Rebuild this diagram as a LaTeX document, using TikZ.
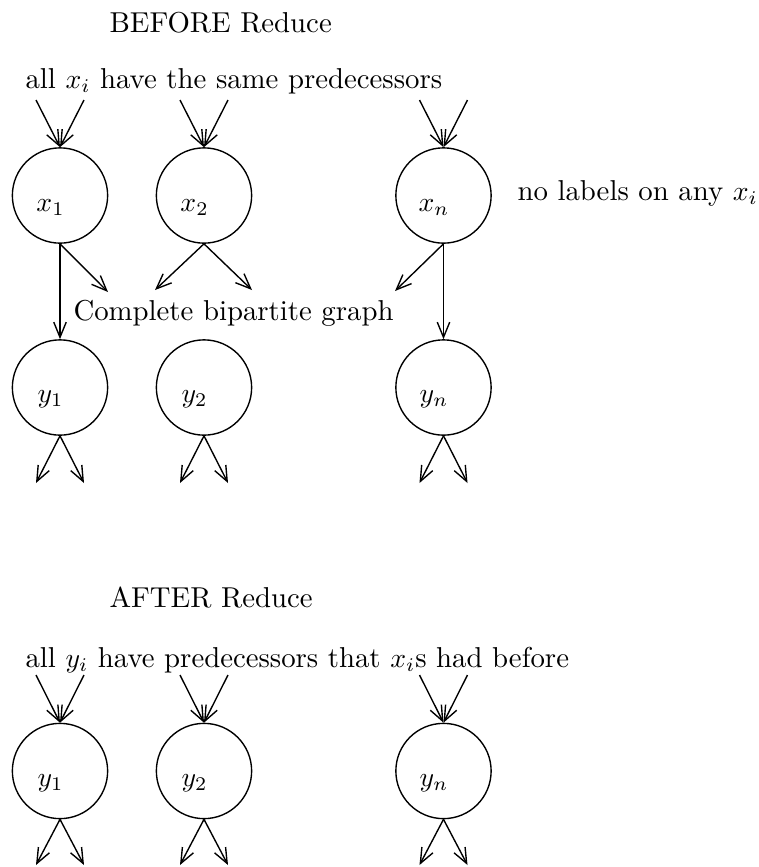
\documentclass[tikz,border=0pt]{standalone}
\usepackage{amsmath, amssymb}
\usepackage{tikz}
\usetikzlibrary{arrows.meta}
\tikzset{
  vtx/.style={circle, draw, line width=0.5pt, minimum size=1.21cm, inner sep=0pt},
  vlab/.style={label={[xshift=-1.2mm, yshift=-1.5mm]center:#1}},
  link/.style={line width=0.5pt, -{Straight Barb[length=5.5pt, width=4.5pt]}},
  txt/.style={inner sep=0pt, anchor=base west},
}

\begin{document}
\begin{tikzpicture}[x=0.127cm, y=-0.127cm, font=\fontsize{10.4pt}{12.5pt}\selectfont]
            \useasboundingbox (0,0) rectangle (75.9,86.7);

            % Prima della riduzione
            \node[txt] (before) at (10.9,3.2) {BEFORE Reduce};
            \node[txt] (same) at (2.5,8.8) {all $x_i$ have the same predecessors};
            \node[vtx, vlab=$x_1$] (x1) at (6,19.55) {};
            \node[vtx, vlab=$x_2$] (x2) at (20.4,19.55) {};
            \node[vtx, vlab=$x_n$] (xn) at (44.35,19.55) {};
            \node[txt] (nolab) at (51.7,20) {no labels on any $x_i$};
            \node[txt] (bip) at (7.3,32) {Complete bipartite graph};
            \node[vtx, vlab=$y_1$] (y1) at (6,38.75) {};
            \node[vtx, vlab=$y_2$] (y2) at (20.4,38.75) {};
            \node[vtx, vlab=$y_n$] (yn) at (44.35,38.75) {};

            \coordinate (p1a) at (3.6,10);   \coordinate (p1b) at (8.4,10);
            \coordinate (p2a) at (18,10);    \coordinate (p2b) at (22.8,10);
            \coordinate (pna) at (41.95,10); \coordinate (pnb) at (46.75,10);
            \draw[link] (p1a) -- (x1.north);
            \draw[link] (p1b) -- (x1.north);
            \draw[link] (p2a) -- (x2.north);
            \draw[link] (p2b) -- (x2.north);
            \draw[link] (pna) -- (xn.north);
            \draw[link] (pnb) -- (xn.north);

            % Grafo bipartito completo
            \coordinate (q1) at (10.8,29.2);
            \coordinate (q2a) at (15.5,29);  \coordinate (q2b) at (25.2,29);
            \coordinate (qn) at (39.5,29.1);
            \draw[link] (x1.south) -- (y1.north);
            \draw[link] (x1.south) -- (q1);
            \draw[link] (x2.south) -- (q2a);
            \draw[link] (x2.south) -- (q2b);
            \draw[link] (xn.south) -- (qn);
            \draw[link] (xn.south) -- (yn.north);

            \coordinate (r1a) at (3.6,48.3);   \coordinate (r1b) at (8.4,48.3);
            \coordinate (r2a) at (18,48.3);    \coordinate (r2b) at (22.8,48.3);
            \coordinate (rna) at (41.95,48.3); \coordinate (rnb) at (46.75,48.3);
            \draw[link] (y1.south) -- (r1a);
            \draw[link] (y1.south) -- (r1b);
            \draw[link] (y2.south) -- (r2a);
            \draw[link] (y2.south) -- (r2b);
            \draw[link] (yn.south) -- (rna);
            \draw[link] (yn.south) -- (rnb);

            % Dopo la riduzione
            \node[txt] (after) at (10.9,60.7) {AFTER Reduce};
            \node[txt] (had) at (2.5,66.7) {all $y_i$ have predecessors that $x_i$s had before};
            \node[vtx, vlab=$y_1$] (ny1) at (6,77.1) {};
            \node[vtx, vlab=$y_2$] (ny2) at (20.4,77.1) {};
            \node[vtx, vlab=$y_n$] (nyn) at (44.35,77.1) {};

            \coordinate (s1a) at (3.6,67.5);   \coordinate (s1b) at (8.4,67.5);
            \coordinate (s2a) at (18,67.5);    \coordinate (s2b) at (22.8,67.5);
            \coordinate (sna) at (41.95,67.5); \coordinate (snb) at (46.75,67.5);
            \draw[link] (s1a) -- (ny1.north);
            \draw[link] (s1b) -- (ny1.north);
            \draw[link] (s2a) -- (ny2.north);
            \draw[link] (s2b) -- (ny2.north);
            \draw[link] (sna) -- (nyn.north);
            \draw[link] (snb) -- (nyn.north);

            \coordinate (t1a) at (3.6,86.5);   \coordinate (t1b) at (8.4,86.5);
            \coordinate (t2a) at (18,86.5);    \coordinate (t2b) at (22.8,86.5);
            \coordinate (tna) at (41.95,86.5); \coordinate (tnb) at (46.75,86.5);
            \draw[link] (ny1.south) -- (t1a);
            \draw[link] (ny1.south) -- (t1b);
            \draw[link] (ny2.south) -- (t2a);
            \draw[link] (ny2.south) -- (t2b);
            \draw[link] (nyn.south) -- (tna);
            \draw[link] (nyn.south) -- (tnb);
        \end{tikzpicture}
\end{document}
